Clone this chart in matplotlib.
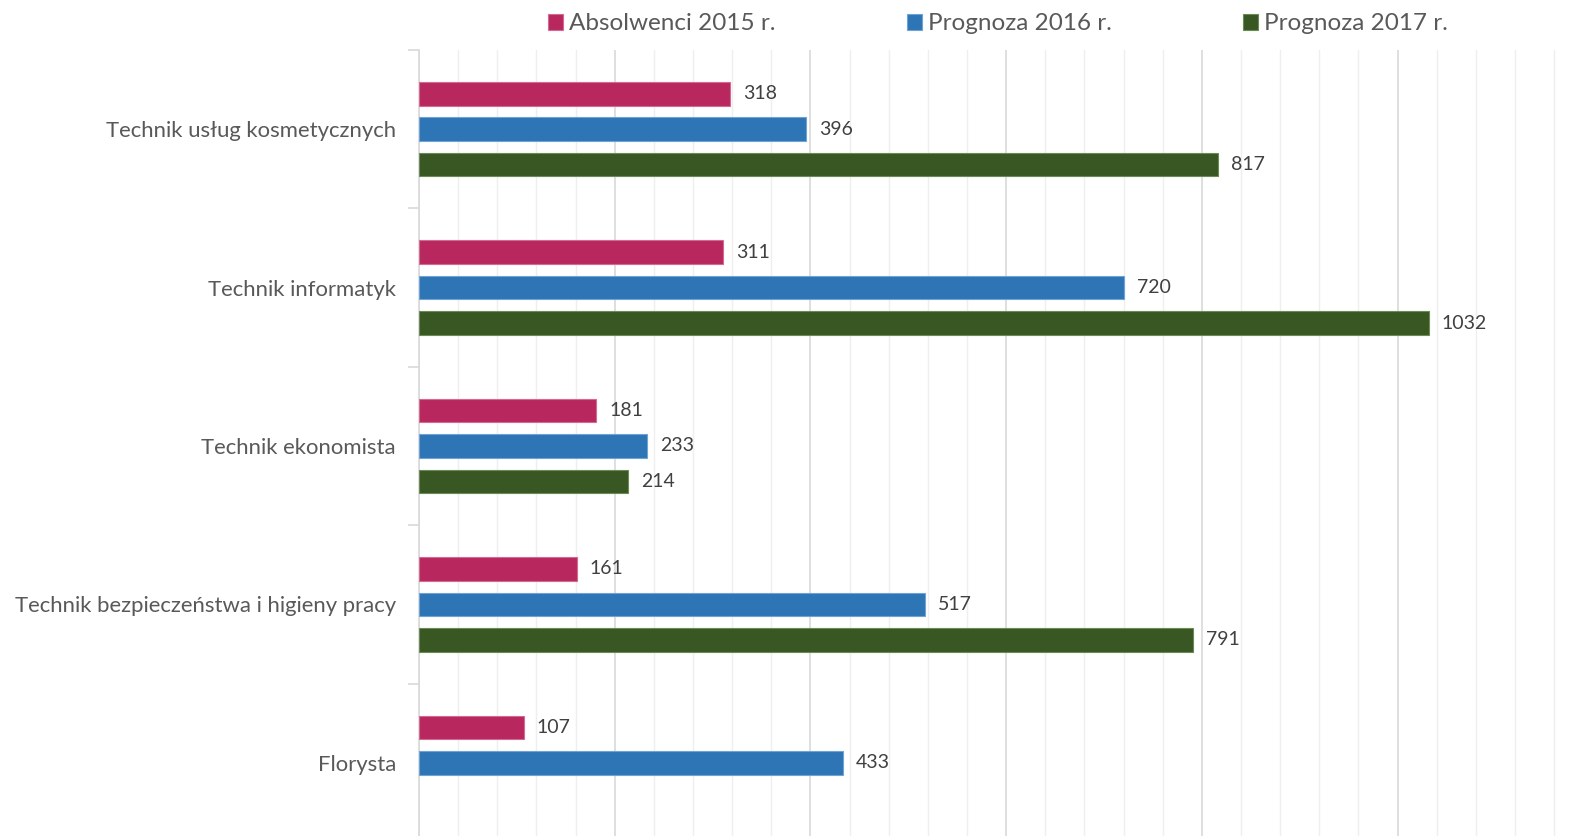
import matplotlib
matplotlib.use("Agg")
import matplotlib.pyplot as plt
import numpy as np
from matplotlib.ticker import MultipleLocator, FixedLocator

plt.rcParams['font.family'] = ['Lato', 'DejaVu Sans']

categories = ["Technik usług kosmetycznych", "Technik informatyk", "Technik ekonomista",
              "Technik bezpieczeństwa i higieny pracy", "Florysta"]
series_names = ["Absolwenci 2015 r.", "Prognoza 2016 r.", "Prognoza 2017 r."]
absolwenci_2015 = [318, 311, 181, 161, 107]
prognoza_2016 = [396, 720, 233, 517, 433]
prognoza_2017 = [817, 1032, 214, 791, np.nan]
colors = ["#B8285E", "#2E75B6", "#385723"]
edges = ["#D46A92", "#6FA3D6", "#6B8A55"]

W, H = 1576, 836
fig = plt.figure(figsize=(W / 100, H / 100), dpi=100)
left_px, top_px, right_px, bottom_px = 419, 50, 419 + 1200 * 0.9785, 842
ax = fig.add_axes([left_px / W, 1 - bottom_px / H, (right_px - left_px) / W, (bottom_px - top_px) / H])

y = np.arange(len(categories))
pitch = 0.2235
bh = 0.148
label_color = "#404040"
for i, (vals, c, ec, name) in enumerate(zip([absolwenci_2015, prognoza_2016, prognoza_2017], colors, edges, series_names)):
    pos = y + (i - 1) * pitch
    v = np.array(vals, dtype=float)
    mask = ~np.isnan(v)
    ax.barh(pos[mask], v[mask], height=bh, color=c, edgecolor=ec, linewidth=0.8, label=name, zorder=3)
    for p, val in zip(pos[mask], v[mask]):
        ax.annotate(f"{int(val)}", xy=(val, p), xytext=(13, 0), textcoords="offset pixels",
                    va="center", ha="left", fontsize=14, color=label_color, zorder=4)

ax.set_xlim(0, 1200)
ax.set_ylim(len(categories) - 0.5, -0.5)

ax.xaxis.set_major_locator(MultipleLocator(200))
ax.xaxis.set_minor_locator(MultipleLocator(40))
ax.grid(axis="x", which="minor", color="#EFEFEF", linewidth=1.0, zorder=0)
ax.grid(axis="x", which="major", color="#D9D9D9", linewidth=1.2, zorder=1)
ax.tick_params(axis="x", which="both", bottom=False, labelbottom=False)

ax.set_yticks(y)
ax.set_yticklabels(categories, fontsize=15.9, color="#595959")
ax.yaxis.set_minor_locator(FixedLocator(np.arange(-0.5, len(categories) + 0.5, 1.0)))
ax.tick_params(axis="y", which="major", length=0, pad=16.5)
ax.tick_params(axis="y", which="minor", length=8, width=1.2, color="#D9D9D9")

for s in ["top", "right", "bottom"]:
    ax.spines[s].set_visible(False)
ax.spines["left"].set_color("#D9D9D9")
ax.spines["left"].set_linewidth(1.2)

leg = fig.legend(loc="center", bbox_to_anchor=(998 / W, 1 - 24 / H), ncol=3, frameon=False,
                 fontsize=17.5, handlelength=0.62, handleheight=0.62, handletextpad=0.25,
                 columnspacing=5.4, labelcolor="#595959")

fig.savefig("out.png", dpi=100)
